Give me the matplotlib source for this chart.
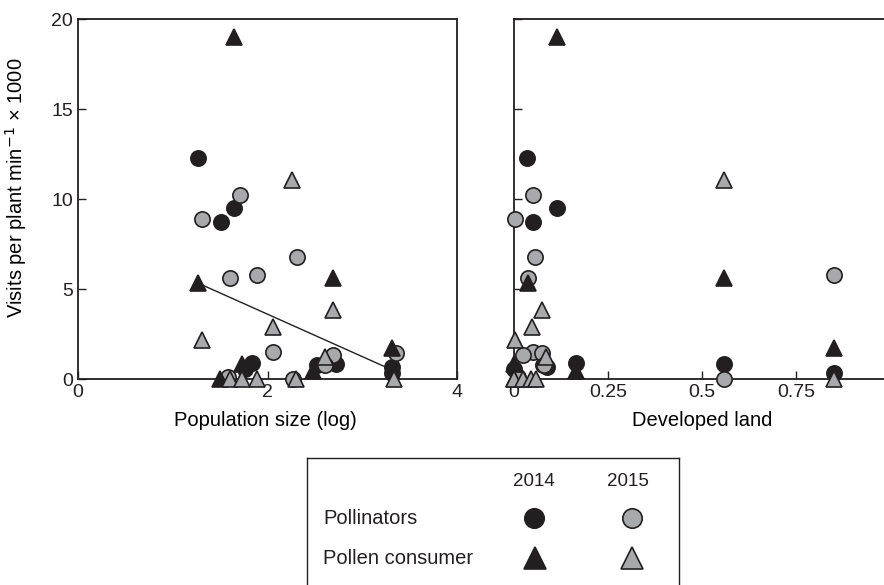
import numpy as np
import matplotlib.pyplot as plt

plt.rcParams['font.family'] = ['Liberation Sans', 'DejaVu Sans']

# Pollinators, 2014
poll14_pop = [1.27, 1.65, 1.51, 1.84, 2.72, 2.52, 3.31, 1.76, 3.31]
poll14_dev = [0.035, 0.114, 0.05, 0.165, 0.558, 0.077, 0.088, 0.0, 0.851]
poll14_vis = [12.3, 9.5, 8.7, 0.9, 0.85, 0.78, 0.65, 0.55, 0.33]

# Pollinators, 2015
poll15_pop = [1.71, 1.31, 2.31, 1.89, 1.60, 2.06, 3.36, 2.69, 2.61, 1.58, 2.27]
poll15_dev = [0.05, 0.003, 0.056, 0.851, 0.038, 0.05, 0.074, 0.024, 0.08, 0.01, 0.558]
poll15_vis = [10.2, 8.9, 6.8, 5.8, 5.6, 1.5, 1.45, 1.35, 0.8, 0.1, 0.0]

# Pollen consumer, 2014
cons14_pop = [1.65, 2.69, 1.27, 3.31, 1.73, 2.48, 1.50]
cons14_dev = [0.114, 0.558, 0.038, 0.851, 0.0, 0.165, 0.0]
cons14_vis = [19.0, 5.6, 5.33, 1.75, 0.85, 0.45, 0.0]

# Pollen consumer, 2015
cons15_pop = [2.26, 2.69, 2.06, 1.31, 2.61, 1.60, 1.73, 1.89, 2.30, 3.33]
cons15_dev = [0.558, 0.074, 0.048, 0.003, 0.085, 0.0, 0.024, 0.045, 0.058, 0.851]
cons15_vis = [11.05, 3.83, 2.9, 2.17, 1.2, 0.0, 0.0, 0.0, 0.0, 0.0]

# fitted line, pollen consumer 2014 vs population size
fit_pop = [1.27, 3.24]
fit_vis = [5.32, 0.68]

BLACK = '#231f20'
GREY = '#a7a9ac'

series = [
    (poll14_pop, poll14_dev, poll14_vis, 'o', BLACK),
    (poll15_pop, poll15_dev, poll15_vis, 'o', GREY),
    (cons14_pop, cons14_dev, cons14_vis, '^', BLACK),
    (cons15_pop, cons15_dev, cons15_vis, '^', GREY),
]

fig = plt.figure(figsize=(8.84, 5.85), dpi=100)
ax1 = fig.add_axes([78 / 884, 1 - 379 / 585, 379 / 884, 360 / 585])
ax2 = fig.add_axes([514 / 884, 1 - 379 / 585, 376 / 884, 360 / 585])


def draw_points(ax, col):
    for s in series:
        x = s[col]
        ax.plot(x, s[2], linestyle='none', marker=s[3], markersize=11 if s[3] == 'o' else 12,
                markerfacecolor=s[4], markeredgecolor=BLACK, markeredgewidth=1.2,
                clip_on=False, zorder=3)


draw_points(ax1, 0)
ax1.plot(fit_pop, fit_vis, color=BLACK, lw=1.0, zorder=2.8)
draw_points(ax2, 1)

for ax in (ax1, ax2):
    ax.set_ylim(0, 20)
    ax.set_yticks([0, 5, 10, 15, 20])
    ax.tick_params(direction='in', length=6, width=1.0, labelsize=14, colors=BLACK)
    for sp in ax.spines.values():
        sp.set_linewidth(1.3)
        sp.set_color(BLACK)

ax1.set_xlim(0, 4)
ax1.set_xticks([0, 2, 4])
ax1.set_ylabel('Visits per plant min$^{-1}$ × 1000', fontsize=14.5)
ax1.yaxis.set_label_coords(-0.13, 0.53)
ax1.set_xlabel('Population size (log)', fontsize=14.5)

ax2.set_xlim(0, 1)
ax2.set_xticks([0, 0.25, 0.5, 0.75])
ax2.set_xticklabels(['0', '0.25', '0.5', '0.75'])
ax2.tick_params(axis='y', labelleft=False)
ax2.spines['right'].set_visible(False)
ax2.set_xlabel('Developed land', fontsize=14.5)
ax2.xaxis.set_label_coords(188 / 376, -0.09)
ax1.xaxis.set_label_coords(0.495, -0.09)

# key box below the panels
lg = fig.add_axes([307 / 884, -0.05, 372 / 884, 1 - 458 / 585 + 0.05])
lg.set_xlim(307, 679)
lg.set_ylim(585 + 0.05 * 585, 458)
lg.set_xticks([])
lg.set_yticks([])
for sp in lg.spines.values():
    sp.set_linewidth(1.0)
    sp.set_color(BLACK)

lg.text(534, 482, '2014', fontsize=13.5, ha='center', va='center', color=BLACK)
lg.text(628, 482, '2015', fontsize=13.5, ha='center', va='center', color=BLACK)
lg.text(323, 518, 'Pollinators', fontsize=14.5, ha='left', va='center', color=BLACK)
lg.text(323, 559, 'Pollen consumer', fontsize=14.5, ha='left', va='center', color=BLACK)
for (xx, yy, m, c) in [(534, 518, 'o', BLACK), (632, 518, 'o', GREY),
                       (535, 558, '^', BLACK), (632, 558, '^', GREY)]:
    lg.plot(xx, yy, marker=m, markersize=14 if m == 'o' else 16, markerfacecolor=c,
            markeredgecolor=BLACK, markeredgewidth=1.2, linestyle='none')

fig.savefig('out.png', dpi=100)
